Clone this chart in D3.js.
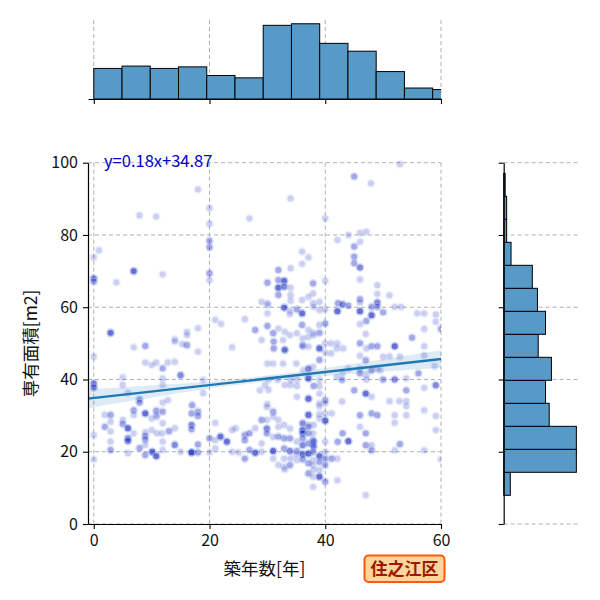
<!DOCTYPE html>
<html><head><meta charset="utf-8">
<script src="https://cdn.jsdelivr.net/npm/d3@7"></script>
<style>
body{margin:0;background:#fff}
text{font-family:"Noto Sans CJK JP","Noto Sans",sans-serif}
</style>
</head><body>
<svg id="chart" width="600" height="600"></svg>
<script>
// ---------- data ----------
const xTicks = [0, 20, 40, 60];
const yTicks = [0, 20, 40, 60, 80, 100];
const xLabel = "築年数[年]";
const yLabel = "専有面積[m2]";
const eqLabel = "y=0.18x+34.87";
const badgeLabel = "住之江区";

// marginal histogram (top): bins over 築年数
const topBinStart = 0;
const topBinWidth = 4.88;
const topCounts = [39, 42, 39, 41, 30, 27, 94, 96, 71, 61, 35, 14, 12];

// marginal histogram (right): bins over 専有面積
const rightBinStart = 7.94;
const rightBinWidth = 6.366;
const rightCounts = [9, 99, 99, 62, 57, 65, 47, 57, 46, 39, 10, 4, 4, 2];

// regression
const regSlope = 0.18;
const regIntercept = 34.87;
const ciX = [-1, 0, 10, 20, 30, 40, 50, 60];
const ciHalf = [2.8, 2.6, 1.7, 1.0, 0.8, 1.1, 1.7, 2.4];

// scatter points: [築年数, 専有面積, overlapping count]
const points = [
// upper left
[18.0,92.6,1],[7.9,85.4,1],[10.8,85.1,1],[26.9,84.6,1],[20,87.4,1],[20,83.1,1],[20,78.4,2],[20,76.6,2],
[0.9,75.8,1],[0,73.8,1],[0,68.0,3],[0,67.1,2],[6.9,70.0,4],[3.9,66.9,1],[11.9,69.1,1],[20,69.4,2],[20,67.5,1],
[21,56.5,1],[22,55.4,1],[26.1,56.7,1],[18,54.2,1],[2.9,52.9,4],[16.1,53.2,1],[16.1,52.3,1],[14,51.1,1],
[27.9,53.7,2],[29,61.5,1],[30.1,60.6,1],[29,50.9,1],
// lower left
[16.1,49.5,2],[15.3,49.8,1],[14,50.5,1],[18,47.7,1],[6.9,48.9,1],[8.9,49.3,2],[23.9,48.9,1],[0,46.3,1],
[8.9,44.7,1],[10.8,44.7,1],[12.8,44.7,1],[14,44.9,1],[10,44.0,1],[11.9,43.1,2],[15,41.2,3],[11.9,40.3,1],
[11.9,38.5,1],[5,40.6,1],[5,38.5,1],[0,38.9,3],[0,37.8,3],[5.9,36.3,1],[7.9,34.5,2],[7.9,33.6,2],[11.9,33.6,1],
[12.8,34.3,1],[18.9,39.9,1],[18.9,36.2,1],[6.9,31.5,2],[6.9,30.2,1],[8.9,30.6,4],[10.8,31.4,2],[10.8,30.2,1],
[11.9,31.1,2],[10,29.2,1],[11.9,27.9,1],[1.9,30.2,1],[2.9,30.2,2],[2.9,28.3,1],[5,28.8,1],[5,27.7,2],[1.9,26.9,2],
[5.9,26.5,4],[2.9,25.6,1],[6.9,25.1,1],[0,24.6,1],[5.9,23.7,3],[5.9,23.0,3],[8.9,25.4,1],[8.9,24.4,2],[8.9,23.4,2],
[8.9,21.9,1],[10,26.0,1],[13,25.7,2],[14,26.5,1],[11.9,22.8,1],[16.9,27.4,3],[16.9,26.2,2],[16.9,30.6,2],
[18,31.1,2],[18,29.9,2],[17,32.9,2],[14,21.9,3],[2.9,22.8,1],[2.9,20.5,2],[5.9,19.6,1],[7.9,21.0,2],[8.9,19.1,2],
[10.1,20.0,4],[10.8,18.8,4],[11.9,20.5,1],[15,20.0,1],[16.9,19.8,6],[18,22.0,2],[18,19.8,2],[20,23.7,2],[20,19.8,1],
[21.9,24.2,4],[23,22.8,4],[21,23.2,1],[21,20.9,1],[0,17.9,1],[23.9,26.0,1],[26.1,24.6,2],[26.1,23.2,2],[26.9,25.1,2],
[27.9,26.5,1],[29,28.8,2],[25,19.8,1],[26.1,18.1,2],[26.9,20.5,2],[27.9,19.7,4],[29,22.3,1],[23.9,20.0,1],
[10.9,25.1,1],[11.8,25.1,1],[10.9,29.7,1],[24.5,26.5,1],[21,28,1],
// upper right
[52.9,99.6,1],[45,96.2,2],[47.9,94.3,1],[34,90.1,1],[40,84.6,1],[42.1,78.6,1],[44,80,1],[46,80.6,1],[47.1,80.9,1],
[45,76.8,2],[46,78.1,1],[45,74.0,2],[45,72.2,2],[46,71.0,3],[36,75.4,1],[37.1,73.8,1],[36,72.0,1],[34,70.8,1],
[31.9,70.3,2],[31.9,67.5,2],[32.9,67.3,4],[31.9,65.4,4],[32.9,65.7,3],[30,66.8,2],[34,65.4,1],[31.9,63.4,2],
[34,63.4,1],[46,67.7,1],[40,67.3,1],[37.9,66.6,2],[49,66.1,1],[49,63.7,1],[51.1,63.3,1],[46,62.2,2],[46,61.3,1],
[42.2,61.1,2],[43,60.8,3],[44,60.4,2],[42.1,58.9,4],[46,58.9,4],[48,57.8,4],[47.1,56.2,2],[49,61.3,3],[49,60.1,2],
[48,60.1,2],[50,58.6,2],[52,60.1,1],[53.1,60.1,1],[55.9,58.3,1],[57.1,58.3,1],[59.1,58.0,1],[59.1,56.0,1],
[60,54.0,2],[57.1,54.0,1],[46,55.3,1],[47,52.6,1],[55,51.6,2],[32.9,59.9,4],[36,58.3,4],[36,55.1,2],[33.9,59.0,1],
[33.9,58.1,1],[37.9,61.1,1],[39,61.5,1],[37.9,63.8,1],[37.1,62.9,1],[36,62.0,1],[30,61.1,1],[30,58.3,1],
[40,55.5,2],[39,55.1,1],[39,52.9,2],[30,54.8,2],[31,52.8,2],[31.9,54.1,1],[37.1,53.7,1],[37.9,52.9,1],[33.9,52.3,1],
[35.1,59.4,2],[38,60.1,1],[39,59.2,1],[40,59.4,1],[33,53.2,1],[35.1,52.8,1],[36.1,51.4,1],[37.1,51.8,1],[38,52.3,1],
[34,61.8,1],
// right side, lower
[31.1,50.5,2],[31.1,48.6,2],[32.7,50.9,1],[33,48.2,4],[36.1,49.5,2],[36.1,49.1,1],[37.1,49.1,1],[39,48.6,4],
[40,50,1],[41,50,1],[42.1,50,1],[42,48.6,1],[43.1,48.6,1],[41,47.2,1],[40,47.4,1],[39,45.4,2],[46,50,2],[48,49.2,2],
[49,49.2,2],[52,49.2,4],[57.1,49.2,1],[47.1,48.6,1],[46,46.6,1],[47,45.3,2],[50,46.3,1],[51.1,46.4,1],[52.9,46.3,1],
[57.1,46.7,1],[49,43.1,1],[47.1,41.2,1],[58.9,43.7,1],[56.1,41.7,2],[59.1,38.4,3],[50,40,2],[52,40,3],[47.1,40,1],
[54,40.3,1],[54,37,2],[47,36.1,4],[45,37,2],[48,35.2,1],[51.1,34,1],[52.8,34,1],[54,34,1],[54,32.6,1],[57.1,37.7,1],
[57.1,31.5,1],[59.1,29.9,1],[48,30.6,2],[49,30.1,2],[52,30.1,1],[52,28,1],[54,30.1,1],[46,30.1,2],[46,26.9,1],
[43,25.1,2],[44,22.9,4],[42.1,22.7,1],[47,25.1,2],[47,21.8,2],[48,21.8,1],[48,20.4,2],[52.9,22.1,2],[52,20.4,1],
[57.1,20.4,1],[60,17.9,1],[59.1,26,1],[47,8,1],
// central cluster
[30,44.4,1],[31,44.4,1],[32.7,44.4,1],[35,44.4,1],[36.2,42.6,1],[37.9,43.5,1],[37.1,43.0,3],[43,41.7,1],[42,40.7,1],
[44,43,1],[46,43,1],[46,41.7,2],[48,42.5,2],[49.5,42.5,1],[29.6,38.4,1],[28.7,37,1],[37.1,40.3,4],[34,39.9,1],
[34,38.5,1],[35.1,39.9,1],[35.1,38.2,1],[38,38.2,2],[39,39.9,1],[39,38.2,1],[42.9,39.9,2],[30.2,37.1,1],[30.2,39.9,1],
[31.8,39.9,1],[33,38.5,1],
[35.1,35.2,1],[37.1,34.7,4],[40,34.3,2],[40,33.4,1],[39,33.4,1],[42.9,33.9,1],[30,33.2,1],[39,36.1,1],[39,32.6,1],
[29.9,32.4,1],[31,31.1,2],[31,29.7,1],[37.1,30.2,4],[39,30.4,1],[40,30.6,1],[41.1,30.6,1],[39,29.2,1],[40,28.6,4],
[29.9,28.8,1],[31.9,28.8,1],[31.9,26.9,1],[32.9,27.4,1],[33.9,26.4,1],[29.9,26.4,3],[36.1,28.1,1],[37.1,27.4,1],
[38,27.4,1],[36.1,27.8,2],[37.1,26.9,2],[36.1,26,4],[36.1,25.1,3],[37.1,25.1,2],[37.9,25.1,1],[36.1,23.7,2],
[36.1,21.8,3],[37.9,23.2,2],[37.9,21.8,2],[37.1,22.3,2],[33.9,23.7,2],[32.9,23.7,2],[31.9,24.2,2],[31,24.1,1],
[29.9,25.1,2],[35.1,22.8,1],[38,22.8,2],[38,21.4,2],[40,22.8,1],[42.2,22.8,1],
[31,20.2,4],[32.9,20.9,2],[33.9,20.2,3],[35.1,20.2,2],[29,20,1],[31,18.1,1],[32.9,18.1,1],[32.9,15.8,1],[31.9,16.3,1],
[33.9,16.3,2],[35.1,17.7,1],[35,19.3,1],[36.1,19.3,4],[36.1,17.9,2],[37.1,19.5,4],[37.9,20.0,2],[37.9,17.7,1],
[39,18.8,4],[39,17.2,2],[40,18.1,2],[40,16.3,2],[40,20,1],[41.1,18.1,2],[42.1,18.1,1],[37.1,16.8,2],[37.1,14,2],
[37.9,16.3,1],[37.9,13.1,1],[39,13.1,4],[40,11.7,2],[42.1,12.1,1],[37.9,10.3,1],[39,15,1],[38,15,1],[33,15.1,1],
[34,18.2,1]
];

// ---------- drawing ----------
const svg = d3.select("#chart");
const x = d3.scaleLinear().domain([-1, 60]).range([88, 441]);
const y = d3.scaleLinear().domain([0, 100]).range([524, 162.7]);
const yTop = d3.scaleLinear().domain([0, d3.max(topCounts) * 1.05]).range([99, 20]);
const xRight = d3.scaleLinear().domain([0, d3.max(rightCounts) * 1.05]).range([503.7, 580]);

const gridColor = "#b0b0b0", gridDash = "4,3";
const histFill = "#5799c7";

svg.append("defs").append("clipPath").attr("id", "clipX")
  .append("rect").attr("x", 88).attr("y", 0).attr("width", 353).attr("height", 600);

// grids - main
const g = svg.append("g");
g.selectAll(".gx").data(xTicks).join("line")
  .attr("x1", d => x(d)).attr("x2", d => x(d)).attr("y1", y(100)).attr("y2", y(0))
  .attr("stroke", gridColor).attr("stroke-dasharray", gridDash).attr("stroke-width", 1);
g.selectAll(".gy").data(yTicks).join("line")
  .attr("x1", 88).attr("x2", 441).attr("y1", d => y(d)).attr("y2", d => y(d))
  .attr("stroke", gridColor).attr("stroke-dasharray", gridDash).attr("stroke-width", 1);
// grids - top hist
g.selectAll(".gtx").data(xTicks).join("line")
  .attr("x1", d => x(d)).attr("x2", d => x(d)).attr("y1", 20).attr("y2", 99)
  .attr("stroke", gridColor).attr("stroke-dasharray", gridDash).attr("stroke-width", 1);
// grids - right hist
g.selectAll(".gry").data(yTicks).join("line")
  .attr("x1", 503.7).attr("x2", 580).attr("y1", d => y(d)).attr("y2", d => y(d))
  .attr("stroke", gridColor).attr("stroke-dasharray", gridDash).attr("stroke-width", 1);

// top histogram
svg.append("g").attr("clip-path", "url(#clipX)")
  .selectAll("rect").data(topCounts).join("rect")
  .attr("x", (d, i) => x(topBinStart + i * topBinWidth))
  .attr("width", (d, i) => x(topBinStart + (i + 1) * topBinWidth) - x(topBinStart + i * topBinWidth))
  .attr("y", d => yTop(d)).attr("height", d => yTop(0) - yTop(d))
  .attr("fill", histFill).attr("stroke", "#000").attr("stroke-width", 1);

// right histogram
svg.append("g").selectAll("rect").data(rightCounts).join("rect")
  .attr("x", xRight(0))
  .attr("width", d => xRight(d) - xRight(0))
  .attr("y", (d, i) => y(rightBinStart + (i + 1) * rightBinWidth))
  .attr("height", (d, i) => y(rightBinStart + i * rightBinWidth) - y(rightBinStart + (i + 1) * rightBinWidth))
  .attr("fill", histFill).attr("stroke", "#000").attr("stroke-width", 1);

// scatter points (each overlapping record drawn as its own translucent marker)
const expanded = [];
points.forEach(p => { for (let k = 0; k < p[2]; k++) expanded.push(p); });
svg.append("g").attr("clip-path", "url(#clipX)")
  .selectAll("circle").data(expanded).join("circle")
  .attr("cx", d => x(d[0])).attr("cy", d => y(d[1])).attr("r", 3.6)
  .attr("fill", "rgb(0,0,190)").attr("stroke", "#8fb4e6").attr("stroke-width", 1.4)
  .attr("opacity", 0.19);

// regression band and line
const band = ciX.map((cx, i) => ({x: cx, lo: regIntercept + regSlope * cx - ciHalf[i], hi: regIntercept + regSlope * cx + ciHalf[i]}));
svg.append("path").datum(band)
  .attr("d", d3.area().x(d => x(d.x)).y0(d => y(d.lo)).y1(d => y(d.hi)).curve(d3.curveMonotoneX))
  .attr("fill", "#1f77b4").attr("fill-opacity", 0.15);
svg.append("line")
  .attr("x1", x(-1)).attr("y1", y(regIntercept + regSlope * -1))
  .attr("x2", x(60)).attr("y2", y(regIntercept + regSlope * 60))
  .attr("stroke", "#1f77b4").attr("stroke-width", 2.3);

// axes
function styleAxis(sel) {
  sel.select(".domain").attr("stroke", "#000").attr("stroke-width", 1.2);
  sel.selectAll(".tick line").attr("stroke", "#000").attr("stroke-width", 1.1);
  sel.selectAll(".tick text").attr("fill", "#111").style("font-size", "16px")
    .style("font-family", '"Noto Sans CJK JP", sans-serif');
}
svg.append("g").attr("transform", "translate(0,524)")
  .call(d3.axisBottom(x).tickValues(xTicks).tickSize(5).tickSizeOuter(0).tickPadding(6))
  .call(styleAxis);
svg.append("g").attr("transform", "translate(88,0)")
  .call(d3.axisLeft(y).tickValues(yTicks).tickSize(5).tickSizeOuter(0).tickPadding(5))
  .call(styleAxis);
// top hist axis (no labels)
svg.append("g").attr("transform", "translate(0,99)")
  .call(d3.axisBottom(x).tickValues(xTicks).tickSize(5).tickSizeOuter(0).tickFormat(""))
  .call(styleAxis);
// right hist axis (no labels)
svg.append("g").attr("transform", "translate(503.7,0)")
  .call(d3.axisLeft(y).tickValues(yTicks).tickSize(5).tickSizeOuter(0).tickFormat(""))
  .call(styleAxis);

// titles
svg.append("text").attr("x", 264.5).attr("y", 575).attr("text-anchor", "middle")
  .style("font-size", "17.5px").attr("fill", "#111").text(xLabel);
svg.append("text").attr("transform", "translate(37,343.4) rotate(-90)").attr("text-anchor", "middle")
  .style("font-size", "17.5px").attr("fill", "#111").text(yLabel);

// equation
svg.append("text").attr("x", 104).attr("y", 167).style("font-size", "16.5px")
  .attr("fill", "mediumblue").text(eqLabel);

// badge
svg.append("rect").attr("x", 364.5).attr("y", 555.5).attr("width", 80).attr("height", 26.5).attr("rx", 4)
  .attr("fill", "#ffd59e").attr("stroke", "#ff5a0a").attr("stroke-width", 2);
svg.append("text").attr("x", 404.5).attr("y", 575).attr("text-anchor", "middle")
  .style("font-size", "17px").style("font-weight", "bold").attr("fill", "#a01800").text(badgeLabel);
</script>
</body></html>
